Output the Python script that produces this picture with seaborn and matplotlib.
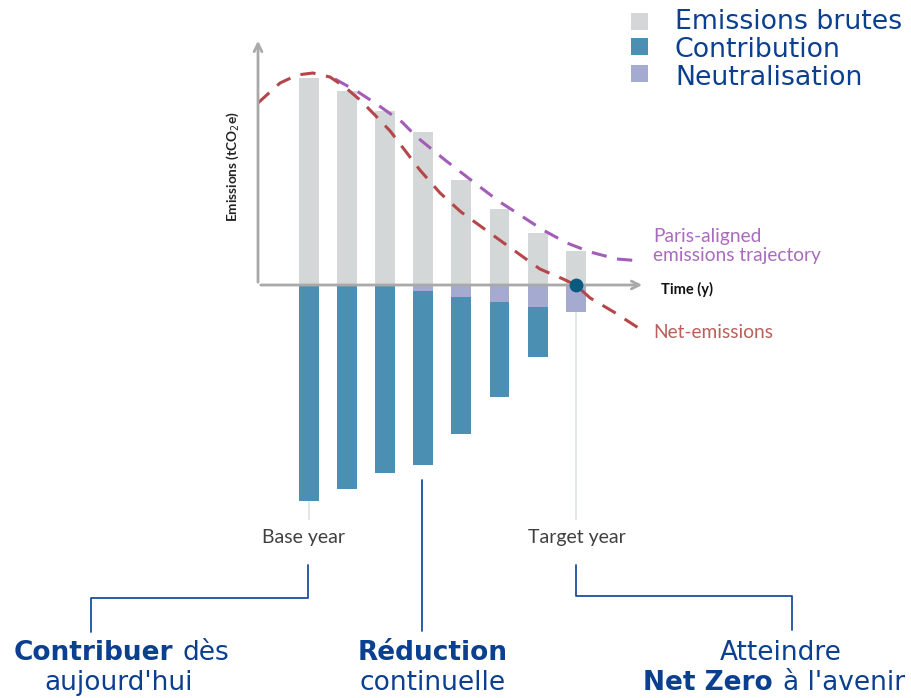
import matplotlib
matplotlib.use("Agg")
import matplotlib.pyplot as plt
import seaborn as sns
from matplotlib.patches import Rectangle

# bars: one per period, base year -> target year
periods = list(range(8))
emissions_brutes = [20.7, 19.4, 17.4, 15.3, 10.5, 7.6, 5.2, 3.4]
neutralisation = [0, 0, 0, 0.6, 1.2, 1.7, 2.2, 2.7]
contribution = [21.6, 20.4, 18.8, 17.4, 13.7, 9.5, 5.0, 0]

# dashed trajectories
net_x = [-1.34, -0.76, -0.31, 0.10, 0.55, 0.94, 1.34, 1.73, 2.13, 2.55, 2.91,
         3.44, 3.99, 4.93, 6.06, 6.67, 7.0, 7.38, 8.0, 8.69]
net_y = [18.2, 20.2, 21.0, 21.2, 20.8, 19.8, 18.5, 17.0, 15.4, 13.3, 11.5,
         9.2, 7.3, 4.7, 1.6, 0.6, 0.0, -1.3, -2.7, -4.4]
paris_x = [0.68, 1.29, 1.81, 2.44, 2.83, 3.57, 4.49, 5.01, 5.54, 6.14, 6.77,
           7.38, 8.08, 8.74]
paris_y = [20.6, 19.3, 18.0, 16.3, 14.8, 12.5, 9.8, 8.3, 7.0, 5.5, 4.2,
           3.3, 2.6, 2.4]

legend_labels = ["Emissions brutes", "Contribution", "Neutralisation"]

GREY = "#d4d7d7"
BLUE = "#4b8fb3"
LILAC = "#a5aad1"
RED = "#b5474a"
PURPLE = "#a35db8"
NAVY = "#0b3f8f"
AXIS = "#a9a9a9"

sns.set_theme(style="white")
plt.rcParams["font.family"] = ["Lato", "DejaVu Sans"]

W, H = 911, 698
fig = plt.figure(figsize=(W / 100, H / 100), dpi=100)

# layout: bar 0 centred at x=309px, baseline at y=285px, 38.1px per period, 10px per unit
X0, DX, Y0, DY = 309, 38.1, 285, 10
ax = fig.add_axes([0, 0, 1, 1])
ax.patch.set_alpha(0)

sns.barplot(x=periods, y=emissions_brutes, color=GREY, saturation=1,
            width=0.52, linewidth=0, ax=ax)
total_neg = [-(n + c) for n, c in zip(neutralisation, contribution)]
sns.barplot(x=periods, y=total_neg, color=BLUE, saturation=1,
            width=0.52, linewidth=0, ax=ax)
sns.barplot(x=periods, y=[-n for n in neutralisation], color=LILAC, saturation=1,
            width=0.52, linewidth=0, ax=ax)

sns.lineplot(x=paris_x, y=paris_y, color=PURPLE, lw=2.2, ax=ax,
             linestyle=(0, (5, 3.5)), sort=False)
sns.lineplot(x=net_x, y=net_y, color=RED, lw=2.2, ax=ax,
             linestyle=(0, (5, 3.5)), sort=False)
ax.scatter([periods[-1]], [0], s=80, color="#0a5a80", zorder=5)

# axes arrows
x_left = (258 - X0) / DX
ax.annotate("", xy=(x_left, (Y0 - 38) / DY), xytext=(x_left, 0),
            arrowprops=dict(arrowstyle="->", color=AXIS, lw=2, mutation_scale=14))
ax.annotate("", xy=((645 - X0) / DX, 0), xytext=(x_left, 0),
            arrowprops=dict(arrowstyle="->", color=AXIS, lw=2, mutation_scale=14))

# thin guides under base and target year
y_guide = (Y0 - 520) / DY
ax.vlines(periods[0], total_neg[0], y_guide, color="#dde4e5", lw=1.2)
ax.vlines(periods[-1], total_neg[-1], y_guide, color="#dde4e5", lw=1.2)

ax.set_xlim(-X0 / DX, (W - X0) / DX)
ax.set_ylim((Y0 - H) / DY, Y0 / DY)
ax.axis("off")

# overlay in pixel coordinates for texts and callouts
ov = fig.add_axes([0, 0, 1, 1], zorder=3)
ov.set_xlim(0, W)
ov.set_ylim(H, 0)
ov.axis("off")

ov.text(233, 167, "Emissions (tCO$_2$e)", rotation=90, ha="center", va="center",
        fontsize=9.8, fontweight="bold", color="#222222")
ov.text(661, 289, "Time (y)", ha="left", va="center", fontsize=10.5,
        fontweight="bold", color="#111111")
ov.text(653, 246, "Paris-aligned\nemissions trajectory", ha="left", va="center",
        fontsize=13.8, color="#a86bbd", linespacing=1.1)
ov.text(653, 332, "Net-emissions", ha="left", va="center", fontsize=13.8,
        color="#b9605a")
ov.text(303, 538, "Base year", ha="center", va="center", fontsize=14, color="#404040")
ov.text(577, 538, "Target year", ha="center", va="center", fontsize=14, color="#404040")

# legend
for i, (lab, col) in enumerate(zip(legend_labels, [GREY, BLUE, LILAC])):
    yc = [21, 46.5, 73.5][i]
    ov.add_patch(Rectangle((631, yc - 8.5), 17, 17, color=col, lw=0))
    ov.text(675, [29, 57, 85][i], lab, ha="left", va="baseline", fontsize=19.3,
            color=NAVY, family="DejaVu Sans")

# callout brackets
ov.plot([308, 308, 91, 91], [565, 598, 598, 632], color="#1c4f9c", lw=1.3)
ov.plot([422, 422], [480, 631], color="#1c4f9c", lw=1.3)
ov.plot([576, 576, 792, 792], [565, 596, 596, 630], color="#1c4f9c", lw=1.3)

fs = 19
dv = "DejaVu Sans"
ov.text(173, 660, "Contribuer", ha="right", va="baseline", fontsize=fs,
        fontweight="bold", color=NAVY, family=dv)
ov.text(182, 660, "dès", ha="left", va="baseline", fontsize=fs, color=NAVY, family=dv)
ov.text(119, 690, "aujourd'hui", ha="center", va="baseline", fontsize=fs,
        color=NAVY, family=dv)
ov.text(433, 660, "Réduction", ha="center", va="baseline", fontsize=fs,
        fontweight="bold", color=NAVY, family=dv)
ov.text(433, 690, "continuelle", ha="center", va="baseline", fontsize=fs,
        color=NAVY, family=dv)
ov.text(781, 660, "Atteindre", ha="center", va="baseline", fontsize=fs,
        color=NAVY, family=dv)
ov.text(773, 690, "Net Zero", ha="right", va="baseline", fontsize=fs,
        fontweight="bold", color=NAVY, family=dv)
ov.text(783, 690, "à l'avenir", ha="left", va="baseline", fontsize=fs,
        color=NAVY, family=dv)

fig.savefig("out.png", dpi=100, facecolor="white")
